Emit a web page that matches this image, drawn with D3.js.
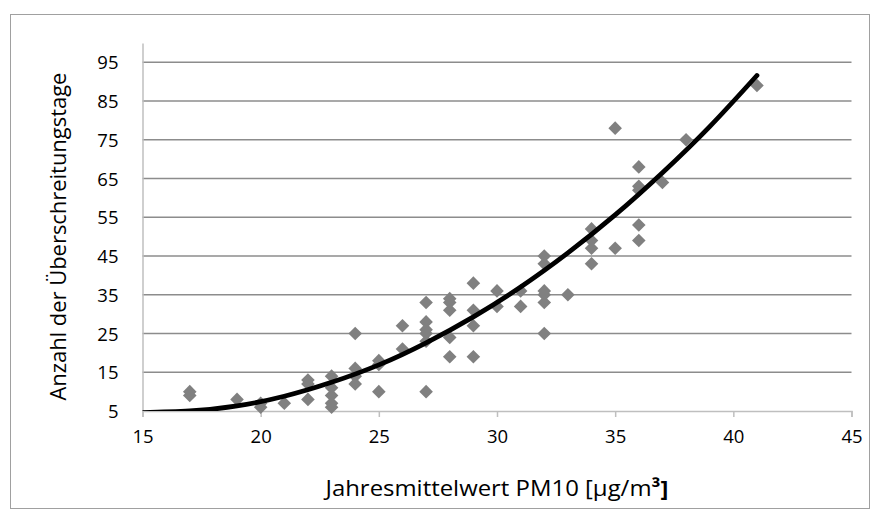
<!DOCTYPE html>
<html>
<head>
<meta charset="utf-8">
<script src="https://cdn.jsdelivr.net/npm/d3@7"></script>
<style>
  body { margin: 0; background: #fff; }
  text { font-family: "Open Sans", sans-serif; fill: #000; }
</style>
</head>
<body>
<svg id="chart" width="880" height="523"></svg>
<script>
// measured points: annual mean PM10 vs. number of exceedance days
var pm10 = [17, 17, 19, 20, 20, 21, 22, 22, 22, 23, 23, 23, 23, 23,
            24, 24, 24, 24, 25, 25, 25, 26, 26,
            27, 27, 27, 27, 27, 27, 28, 28, 28, 28, 28, 29, 29, 29, 29,
            30, 30, 31, 31, 32, 32, 32, 32, 32, 32, 33, 34, 34, 34, 34,
            35, 35, 36, 36, 36, 36, 36, 37, 38, 41];
var days = [10, 9, 8, 7, 6, 7, 13, 12, 8, 14, 11, 9, 7, 6,
            25, 16, 14, 12, 18, 17, 10, 27, 21,
            33, 28, 26, 25, 23, 10, 34, 33, 31, 24, 19, 38, 31, 27, 19,
            36, 32, 36, 32, 45, 43, 36, 35, 33, 25, 35, 52, 49, 47, 43,
            78, 47, 68, 63, 62, 53, 49, 64, 75, 89];

// trendline
var trendPm10 = [15, 17, 19, 21, 23, 25, 27, 29, 31, 33, 35, 37, 39, 41];
var trendDays = [4.6, 5, 6.3, 8.8, 12.4, 16.9, 22.6, 29.3, 37, 45.8, 55.6, 66.5, 78.4, 91.6];

var xTicks = [15, 20, 25, 30, 35, 40, 45];
var yTicks = [5, 15, 25, 35, 45, 55, 65, 75, 85, 95];

var svg = d3.select("#chart");

// outer chart frame
svg.append("rect")
  .attr("x", 10.5).attr("y", 14.5)
  .attr("width", 859).attr("height", 494)
  .attr("fill", "none")
  .attr("stroke", "#a0a0a0");

var x = d3.scaleLinear().domain([15, 45]).range([142.5, 851.5]);
var y = d3.scaleLinear().domain([5, 100]).range([411, 42.9]);

// horizontal gridlines
svg.append("g").selectAll("line")
  .data(yTicks.filter(function(d) { return d !== 5; }))
  .enter().append("line")
    .attr("x1", x(15)).attr("x2", x(45))
    .attr("y1", function(d) { return y(d); })
    .attr("y2", function(d) { return y(d); })
    .attr("stroke", "#8c8c8c")
    .attr("stroke-width", 1.4);

// y axis
var yAxis = d3.axisLeft(y).tickValues(yTicks).tickSize(0).tickPadding(24);
var yg = svg.append("g").attr("transform", "translate(" + x(15) + ",0)").call(yAxis);
yg.select(".domain").attr("stroke", "#bfbfbf").attr("stroke-width", 1.5);
yg.selectAll("text").style("font-size", "18.5px").attr("dy", "0.36em");

// x axis
var xAxis = d3.axisBottom(x).tickValues(xTicks).tickSizeOuter(0).tickSize(6).tickPadding(13);
var xg = svg.append("g").attr("transform", "translate(0," + y(5) + ")").call(xAxis);
xg.select(".domain").attr("stroke", "#bfbfbf").attr("stroke-width", 1.5);
xg.selectAll("line").attr("stroke", "#bfbfbf").attr("stroke-width", 1.5);
xg.selectAll("text").style("font-size", "18.5px");

// markers
var diamond = "M0,-6.8L6.8,0L0,6.8L-6.8,0Z";
svg.append("g").selectAll("path")
  .data(pm10.map(function(d, i) { return [d, days[i]]; }))
  .enter().append("path")
    .attr("d", diamond)
    .attr("transform", function(d) { return "translate(" + x(d[0]) + "," + y(d[1]) + ")"; })
    .attr("fill", "#808080");

// trendline, clipped to the plot area
svg.append("clipPath").attr("id", "plotclip")
  .append("rect")
    .attr("x", x(15)).attr("y", y(100) - 5)
    .attr("width", x(45) - x(15)).attr("height", y(5) - y(100) + 5);

var line = d3.line()
  .x(function(d, i) { return x(trendPm10[i]); })
  .y(function(d) { return y(d); })
  .curve(d3.curveNatural);

svg.append("path")
  .attr("d", line(trendDays))
  .attr("clip-path", "url(#plotclip)")
  .attr("fill", "none")
  .attr("stroke", "#000")
  .attr("stroke-width", 4.8)
  .attr("stroke-linecap", "round");

// axis titles
svg.append("text")
  .attr("transform", "translate(" + 66 + "," + (y(5) + y(95)) / 2 + ") rotate(-90)")
  .attr("text-anchor", "middle")
  .attr("textLength", 328)
  .attr("lengthAdjust", "spacingAndGlyphs")
  .style("font-size", "21.5px")
  .text("Anzahl der Überschreitungstage");

var xt = svg.append("text")
  .attr("x", (x(15) + x(45)) / 2)
  .attr("y", 496)
  .attr("text-anchor", "middle")
  .attr("textLength", 343)
  .attr("lengthAdjust", "spacingAndGlyphs")
  .style("font-size", "21.5px");
xt.append("tspan").text("Jahresmittelwert PM10 [µg/m");
xt.append("tspan").style("font-weight", "bold").text("³]");
</script>
</body>
</html>
